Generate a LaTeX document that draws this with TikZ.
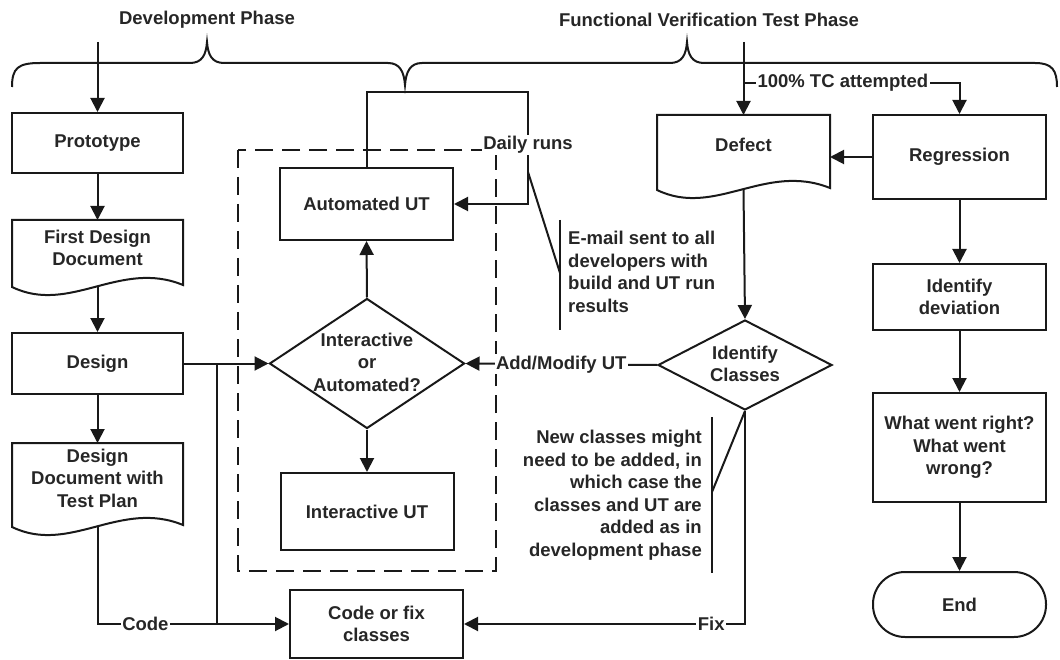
\documentclass[tikz,border=0pt]{standalone}
\usepackage{fontspec}
\setmainfont{Liberation Sans}
\usetikzlibrary{arrows.meta,shapes.geometric}
\newcommand{\docshape}[4]{%
  \draw[ln] (#1,#2) -- (#3,#2) -- (#3,{#4-2})
    .. controls ({#1+108},{#4-28}) and ({#1+58},{#4+28}) .. (#1,#4) -- cycle;}
\tikzset{
  base/.style={font=\fontsize{18.5}{22.5}\selectfont\bfseries, text=black!85, align=center, inner sep=2pt},
  ln/.style={line width=2pt, draw=black!90},
  box/.style={base, ln, minimum width=171pt},
  rbox/.style={base, ln, minimum width=173pt},
  lbl/.style={base, fill=white, inner sep=1.5pt},
  arr/.style={ln, -{Triangle[length=14pt,width=14pt]}},
  dia/.style={diamond, ln, inner sep=0pt},
}
\begin{document}
\begin{tikzpicture}[x=1pt,y=-1pt]
\useasboundingbox (0,0) rectangle (1060,660);

% phase labels and braces
\node[base] (devph) at (207,20) {Development Phase};
\node[base] (fvph) at (709,20) {Functional Verification Test Phase};
\draw[ln] (12,87) .. controls (12,68) and (18,63) .. (40,63) -- (190,63)
  .. controls (202,63) and (206,55) .. (207,42)
  .. controls (208,55) and (212,63) .. (224,63) -- (388,63)
  .. controls (400,63) and (404,72) .. (405,85)
  .. controls (406,72) and (410,63) .. (422,63) -- (670,63)
  .. controls (682,63) and (686,55) .. (687,42)
  .. controls (688,55) and (692,63) .. (704,63) -- (1035,63)
  .. controls (1052,63) and (1057,70) .. (1057,87);

% dashed region
\draw[line width=1.8pt, draw=black!90, dash pattern=on 18pt off 9pt] (238,150) rectangle (496,571);

% left column
\coordinate (top1) at (97.5,42);
\node[box, minimum height=60pt] (proto) at (97.5,143) {Prototype};
\node[base] (fdd) at (97.5,248) {First Design\\Document};
\docshape{12}{220}{183}{287}
\coordinate (fdd-t) at (97.5,220);
\coordinate (fdd-b) at (97.5,287);
\node[box, minimum height=61pt] (design) at (97.5,363.5) {Design};
\node[base] (ddtp) at (97.5,478) {Design\\Document with\\Test Plan};
\docshape{12}{443}{183}{527}
\coordinate (ddtp-t) at (97.5,443);
\coordinate (ddtp-b) at (97.5,527);

% middle
\node[rbox, minimum height=72pt] (au) at (366.5,204) {Automated UT};
\node[dia, minimum width=195pt, minimum height=130pt] (ia) at (367,363.5) {};
\node[base] (ia-txt) at (367,362) {Interactive\\or\\Automated?};
\node[rbox, minimum height=77pt] (iu) at (367,511.5) {Interactive UT};
\node[rbox, minimum height=68pt] (cf) at (376.5,624) {Code or fix\\classes};
\coordinate (j1) at (217,363.5);
\coordinate (j2) at (217,624);
\coordinate (loop) at (528,92);

% right part
\coordinate (top2) at (743.5,42);
\coordinate (b100) at (743.5,83);
\node[base] (defect) at (743.5,145) {Defect};
\docshape{657}{115}{830}{190}
\coordinate (def-t) at (743.5,115);
\coordinate (def-b) at (743.5,190);
\coordinate (def-r) at (830,157);
\node[dia, minimum width=174pt, minimum height=90pt] (idc) at (745,365) {};
\node[base] (idc-txt) at (745,364) {Identify\\Classes};
\node[rbox, minimum height=84pt] (reg) at (959.5,157) {Regression};
\node[rbox, minimum height=66pt] (idd) at (959.5,297) {Identify\\deviation};
\node[rbox, minimum height=109pt] (wwr) at (959.5,447.5) {What went right?\\What went\\wrong?};
\node[rbox, rounded corners=32pt, minimum height=65pt] (end) at (959.5,604.5) {End};

% connectors left
\draw[arr] (top1) -- (proto.north);
\draw[arr] (proto.south) -- (fdd-t);
\draw[arr] (fdd-b) -- (design.north);
\draw[arr] (design.south) -- (ddtp-t);
\draw[arr] (ddtp-b) |- node[lbl, pos=0.625] {Code} (cf.west);
\draw[arr] (design.east) -- (ia.west);
\draw[ln] (j1) -- (j2);

% connectors middle
\draw[arr] (ia.north) -- (au.south);
\draw[arr] (ia.south) -- (iu.north);
\draw[arr] (au.north) |- (loop) |- (au.east);
\node[lbl] (daily) at (528,145) {Daily runs};
\coordinate (em-a) at (528,172);
\coordinate (em-b) at (560,273);
\coordinate (em-t) at (560,220);
\coordinate (em-u) at (560,330);
\draw[ln] (em-a) -- (em-b);
\draw[ln] (em-t) -- (em-u);
\node[base, align=left, anchor=west] (email) at (566,272) {E-mail sent to all\\developers with\\build and UT run\\results};

% connectors right
\draw[arr] (top2) -- (def-t);
\draw[arr] (b100) -| node[lbl, pos=0.23] {100\% TC attempted} (reg.north);
\draw[arr] (reg.west) -- (def-r);
\draw[arr] (def-b) -- (idc.north);
\draw[arr] (idc.west) -- node[lbl] {Add/Modify UT} (ia.east);
\draw[arr] (idc.south) |- node[lbl, pos=0.56] {Fix} (cf.east);
\draw[arr] (reg.south) -- (idd.north);
\draw[arr] (idd.south) -- (wwr.north);
\draw[arr] (wwr.south) -- (end.north);

% new classes callout
\coordinate (nc-t) at (712,417);
\coordinate (nc-u) at (712,573);
\coordinate (nc-m) at (712,492);
\draw[ln] (nc-t) -- (nc-u);
\draw[ln] (nc-m) -- (idc.south);
\node[base, align=right, anchor=east] (newc) at (704,495) {New classes might\\need to be added, in\\which case the\\classes and UT are\\added as in\\development phase};
\end{tikzpicture}
\end{document}
